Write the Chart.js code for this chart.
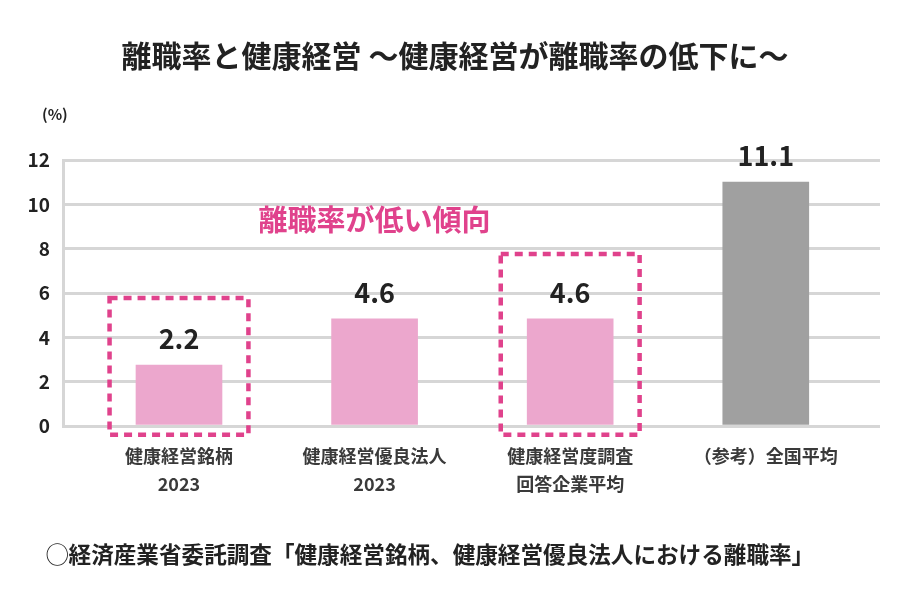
<!DOCTYPE html>
<html>
<head>
<meta charset="utf-8">
<script src="https://cdn.jsdelivr.net/npm/chart.js@4"></script>
<style>
  html, body { margin: 0; padding: 0; background: #fff; }
  #wrap { width: 916px; height: 606px; }
</style>
</head>
<body>
<div id="wrap"><canvas id="chart" width="916" height="606"></canvas></div>
<script>
const FONT = '"Noto Sans CJK JP", "Noto Sans", sans-serif';

const categories = [
  ['健康経営銘柄', '2023'],
  ['健康経営優良法人', '2023'],
  ['健康経営度調査', '回答企業平均'],
  ['（参考）全国平均']
];
// bar heights as drawn in the picture, and the value text printed over them
const barValues = [2.75, 4.83, 4.83, 11.0];
const valueLabels = ['2.2', '4.6', '4.6', '11.1'];
const barColors = ['#eca7cd', '#eca7cd', '#eca7cd', '#a0a0a0'];
const yTicks = [0, 2, 4, 6, 8, 10, 12];

// dashed highlight boxes: category index and top value
const highlightIdx = [0, 2];
const highlightTop = [5.77, 7.76];
const PINK = '#e0428c';

const titleText = '離職率と健康経営 〜健康経営が離職率の低下に〜';
const noteText = '離職率が低い傾向';
const sourceText = '◯経済産業省委託調査「健康経営銘柄、健康経営優良法人における離職率」';

const decor = {
  id: 'decor',
  afterDatasetsDraw(chart) {
    const ctx = chart.ctx;
    const x = chart.scales.x, y = chart.scales.y;
    ctx.save();

    // dashed boxes
    ctx.strokeStyle = PINK;
    ctx.lineWidth = 4.5;
    ctx.setLineDash([8, 6]);
    highlightIdx.forEach((idx, k) => {
      const l = x.getPixelForValue(idx - 0.355);
      const r = x.getPixelForValue(idx + 0.355);
      const t = y.getPixelForValue(highlightTop[k]);
      const b = y.getPixelForValue(-0.4);
      ctx.strokeRect(l, t, r - l, b - t);
    });
    ctx.setLineDash([]);

    // value labels
    ctx.fillStyle = '#222';
    ctx.font = 'bold 27px ' + FONT;
    ctx.textAlign = 'center';
    ctx.textBaseline = 'middle';
    chart.getDatasetMeta(0).data.forEach((bar, i) => {
      ctx.fillText(valueLabels[i], bar.x, bar.y - 26);
    });

    // pink note
    ctx.fillStyle = PINK;
    ctx.font = 'bold 29px ' + FONT;
    ctx.fillText(noteText, x.getPixelForValue(1), y.getPixelForValue(9.3));

    // title
    ctx.fillStyle = '#222';
    ctx.font = 'bold 30px ' + FONT;
    ctx.fillText(titleText, 455, 56);

    // unit
    ctx.font = 'bold 15px ' + FONT;
    ctx.textAlign = 'left';
    ctx.fillText('(%)', 42, 114);

    // source
    ctx.font = 'bold 22.6px ' + FONT;
    ctx.fillText(sourceText, 46, 554);
    ctx.restore();
  }
};

new Chart(document.getElementById('chart'), {
  type: 'bar',
  data: {
    datasets: [{
      data: barValues.map((v, i) => ({ x: i, y: v })),
      backgroundColor: barColors,
      barThickness: 86
    }]
  },
  options: {
    responsive: false,
    animation: false,
    layout: { padding: { top: 160, right: 36, left: 0, bottom: 0 } },
    plugins: { legend: { display: false }, tooltip: { enabled: false } },
    scales: {
      x: {
        type: 'linear',
        offset: false,
        min: -0.593,
        max: 3.584,
        afterBuildTicks: s => { s.ticks = categories.map((c, i) => ({ value: i })); },
        afterFit: s => { s.height = 180; },
        grid: { display: false, drawTicks: false, offset: false },
        border: { display: false },
        ticks: {
          callback: v => categories[v],
          padding: 16,
          maxRotation: 0,
          autoSkip: false,
          color: '#3a3a3a',
          font: { family: FONT, size: 18, weight: 'bold', lineHeight: 1.55 }
        }
      },
      y: {
        min: 0,
        max: 12,
        afterBuildTicks: s => { s.ticks = yTicks.map(v => ({ value: v })); },
        afterFit: s => { s.width = 63; },
        grid: { color: '#d6d6d6', lineWidth: 3, drawTicks: false },
        border: { display: true, color: '#d6d6d6', width: 3 },
        ticks: {
          padding: 13,
          color: '#222',
          font: { family: FONT, size: 19, weight: 'bold' }
        }
      }
    }
  },
  plugins: [decor]
});
</script>
</body>
</html>
